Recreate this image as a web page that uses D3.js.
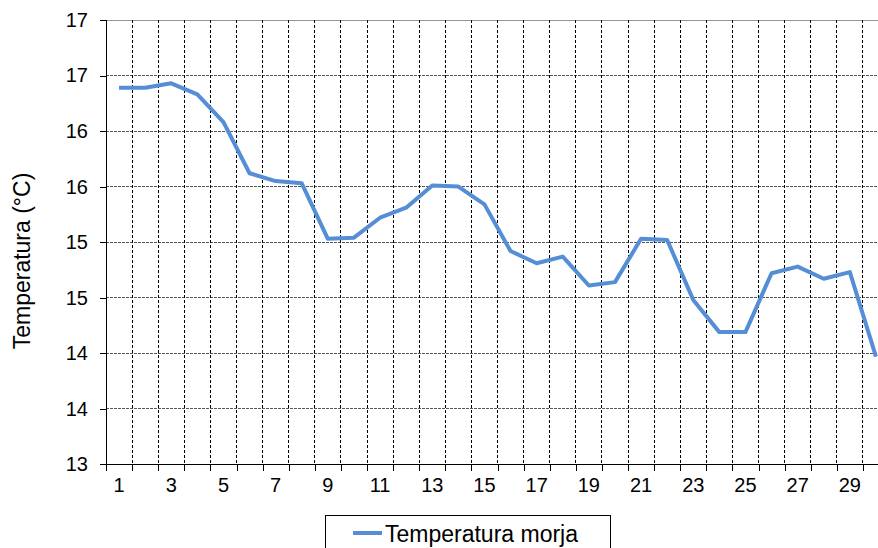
<!DOCTYPE html>
<html>
<head>
<meta charset="utf-8">
<script src="https://cdn.jsdelivr.net/npm/d3@7"></script>
<style>
  html, body { margin: 0; padding: 0; background: #fff; }
  svg { display: block; font-family: "Liberation Sans", Arial, sans-serif; }
</style>
</head>
<body>
<svg id="chart" width="878" height="548"></svg>
<script>
const days = d3.range(1, 31);
const seaTemp = [16.39, 16.39, 16.43, 16.33, 16.08, 15.62, 15.55, 15.53, 15.03, 15.04,
                 15.22, 15.31, 15.51, 15.50, 15.34, 14.92, 14.81, 14.87, 14.61, 14.64,
                 15.03, 15.02, 14.48, 14.19, 14.19, 14.72, 14.78, 14.67, 14.73, 13.97];
const yTickValues = [13, 13.5, 14, 14.5, 15, 15.5, 16, 16.5, 17];
const yTickLabels = ["13", "14", "14", "15", "15", "16", "16", "17", "17"];
const xTickLabels = d3.range(1, 31, 2);
const seriesName = "Temperatura morja";
const yTitle = "Temperatura (°C)";

const svg = d3.select("#chart");
const pL = 106, pR = 889, pT = 20, pB = 464.3;

const x = d3.scaleBand().domain(days).range([pL, pR]).padding(0);
const y = d3.scaleLinear().domain([13, 17]).range([pB, pT]);

// horizontal gridlines
svg.append("g").selectAll("line").data(yTickValues.filter(v => v > 13)).join("line")
  .attr("x1", pL).attr("x2", pR)
  .attr("y1", d => y(d)).attr("y2", d => y(d))
  .attr("stroke", "#444").attr("stroke-width", 1)
  .attr("stroke-dasharray", d => d === 17 ? null : "3,1")
  .attr("stroke-opacity", d => d === 17 ? 0.55 : 0.9)
  .attr("shape-rendering", "crispEdges");

// vertical gridlines at category boundaries
svg.append("g").selectAll("line").data(days.slice(1)).join("line")
  .attr("x1", d => x(d)).attr("x2", d => x(d))
  .attr("y1", pT).attr("y2", pB)
  .attr("stroke", "#000").attr("stroke-width", 1)
  .attr("stroke-dasharray", "3,2")
  .attr("shape-rendering", "crispEdges");

// y axis
const yAxis = d3.axisLeft(y).tickValues(yTickValues)
  .tickFormat((d, i) => yTickLabels[i]).tickSize(6).tickPadding(12);
const gy = svg.append("g").attr("transform", `translate(${pL},0)`).call(yAxis);
gy.select(".domain").attr("stroke", "#000").attr("shape-rendering", "crispEdges");
gy.selectAll(".tick line").attr("stroke", "#000").attr("shape-rendering", "crispEdges");
gy.selectAll(".tick text").attr("font-size", 20).attr("fill", "#000")
  .attr("font-family", "'Liberation Sans', Arial, sans-serif");

// x axis: boundary ticks
const xb = d3.scaleLinear().domain([0, 30]).range([pL, pR]);
const gxt = svg.append("g").attr("transform", `translate(0,${pB})`)
  .call(d3.axisBottom(xb).tickValues(d3.range(0, 31)).tickFormat("").tickSize(7).tickSizeOuter(0));
gxt.select(".domain").attr("stroke", "#000").attr("shape-rendering", "crispEdges");
gxt.selectAll(".tick line").attr("stroke", "#000").attr("shape-rendering", "crispEdges");

// x axis labels at category centres
const gx = svg.append("g").attr("transform", `translate(0,${pB})`)
  .call(d3.axisBottom(x).tickValues(xTickLabels).tickSize(0).tickPadding(14));
gx.select(".domain").remove();
gx.selectAll(".tick text").attr("font-size", 20).attr("fill", "#000")
  .attr("font-family", "'Liberation Sans', Arial, sans-serif");

// line
const line = d3.line()
  .x((d, i) => x(days[i]) + x.bandwidth() / 2)
  .y(d => y(d));
svg.append("path").datum(seaTemp)
  .attr("d", line)
  .attr("fill", "none")
  .attr("stroke", "#558ED5")
  .attr("stroke-width", 4)
  .attr("stroke-linejoin", "round");

// y title
svg.append("text")
  .attr("transform", `translate(30,261) rotate(-90)`)
  .attr("text-anchor", "middle")
  .attr("font-size", 23)
  .attr("fill", "#000")
  .text(yTitle);

// legend
const lg = svg.append("g");
lg.append("rect").attr("x", 325.5).attr("y", 515.5).attr("width", 285).attr("height", 40)
  .attr("fill", "#fff").attr("stroke", "#000").attr("stroke-width", 1);
lg.append("line").attr("x1", 353).attr("x2", 382).attr("y1", 533).attr("y2", 533)
  .attr("stroke", "#558ED5").attr("stroke-width", 4);
lg.append("text").attr("x", 385).attr("y", 542).attr("font-size", 23).attr("fill", "#000")
  .text(seriesName);
</script>
</body>
</html>
